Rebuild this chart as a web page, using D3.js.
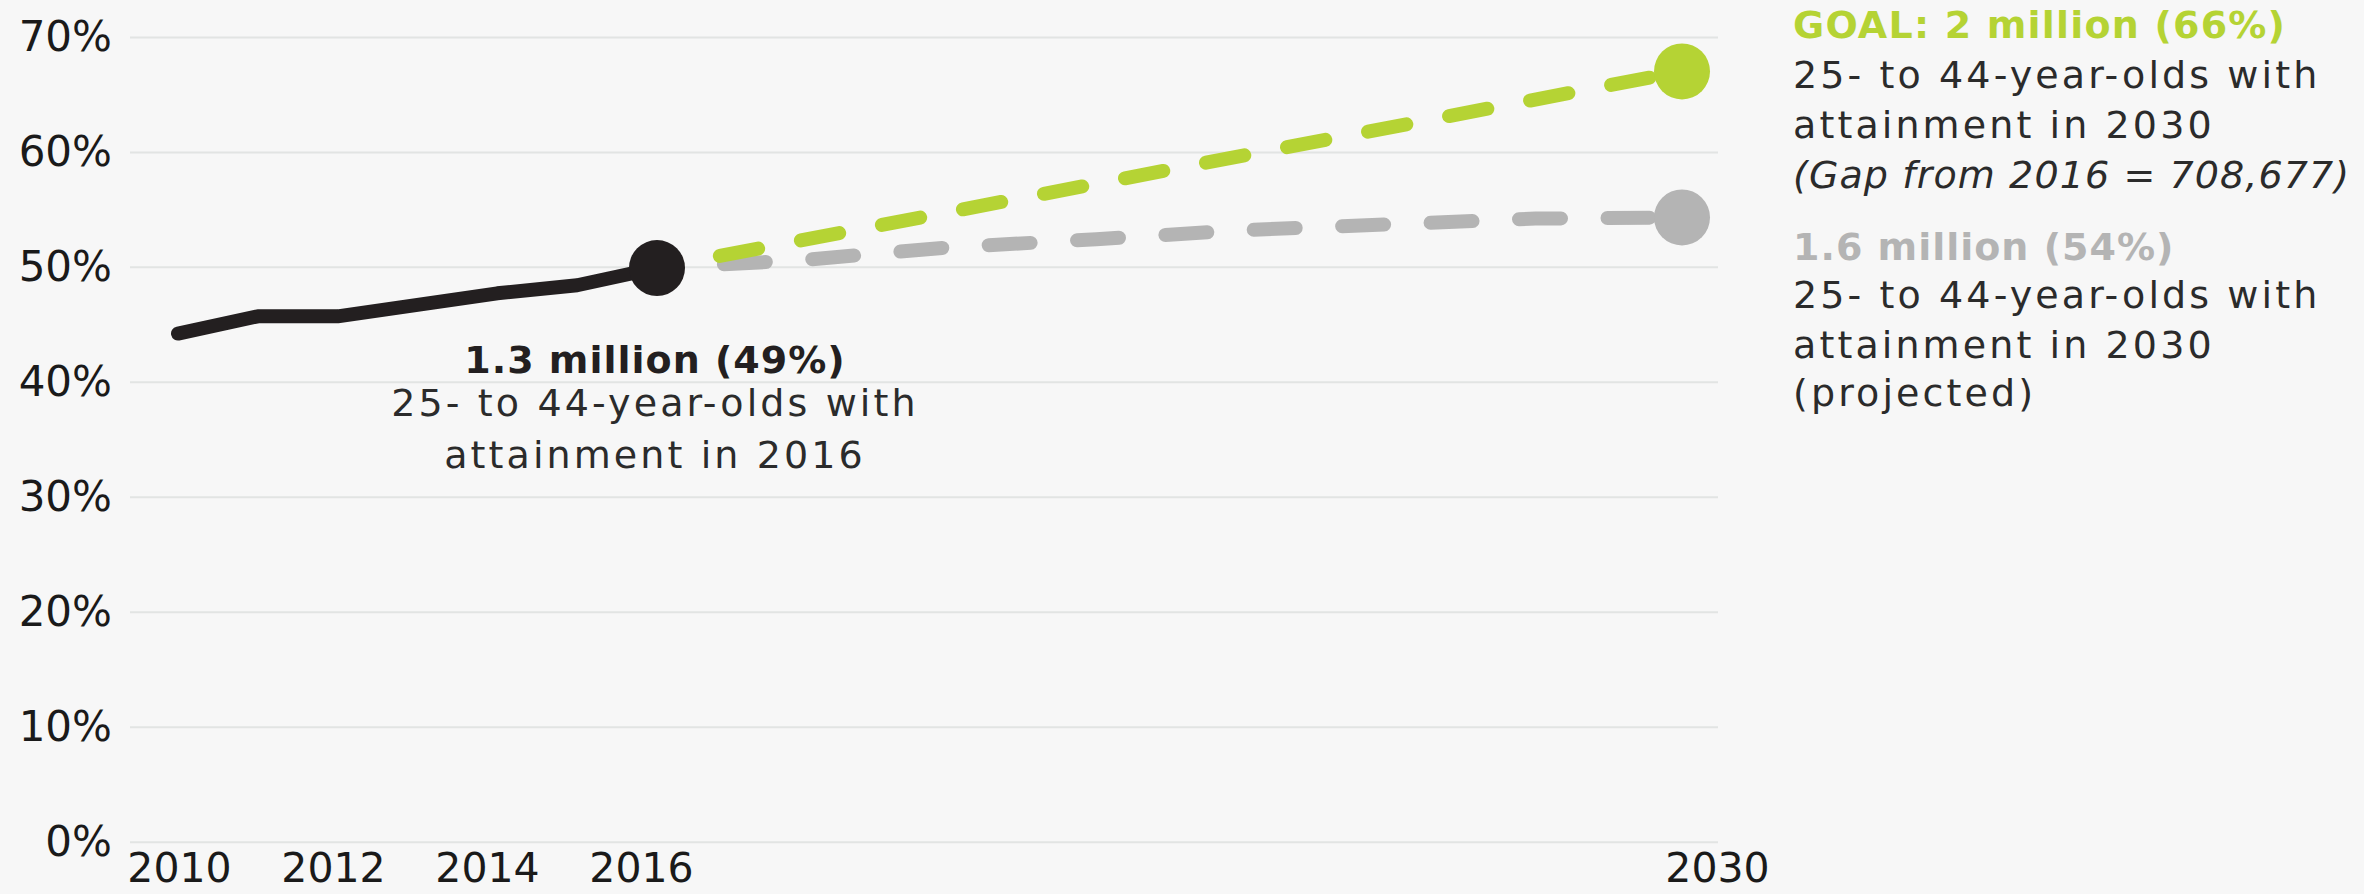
<!DOCTYPE html>
<html>
<head>
<meta charset="utf-8">
<script src="https://cdn.jsdelivr.net/npm/d3@7/dist/d3.min.js"></script>
<style>
  html, body { margin: 0; padding: 0; background: #f7f7f7; }
  svg { display: block; }
</style>
</head>
<body>
<svg id="chart" width="2364" height="894"></svg>
<script>
// ---------- data ----------
const histYears = [2010, 2011, 2012, 2013, 2014, 2015, 2016];
const histValues = [44.2, 45.7, 45.7, 46.7, 47.7, 48.4, 49.9];

const goalYears = [2016, 2030];
const goalValues = [49.9, 67.0];

const projYears = [2016, 2018, 2020, 2022, 2024, 2026, 2028, 2030];
const projValues = [49.9, 50.6, 51.7, 52.4, 53.2, 53.7, 54.2, 54.3];

const yTicks = [0, 10, 20, 30, 40, 50, 60, 70];
const xTicks = [2010, 2012, 2014, 2016, 2030];
const xTickLabels = ["2010", "2012", "2014", "2016", "2030"];

const currentLabel = ["1.3 million (49%)", "25- to 44-year-olds with", "attainment in 2016"];
const goalLabel = ["GOAL: 2 million (66%)", "25- to 44-year-olds with", "attainment in 2030", "(Gap from 2016 = 708,677)"];
const projLabel = ["1.6 million (54%)", "25- to 44-year-olds with", "attainment in 2030", "(projected)"];

// ---------- styling ----------
const FONT = "'DejaVu Sans', sans-serif";
const BLACK = "#231f20";
const TEXT = "#2b2b2b";
const GREEN = "#b5d334";
const GRAY = "#b4b4b4";
const GRID = "#e2e4e3";

const svg = d3.select("#chart");

const x = d3.scaleLinear().domain([2010, 2016, 2030]).range([178, 657, 1682]);
const xLabel = d3.scaleLinear().domain([2010, 2016, 2030]).range([179, 641, 1717]);
const y = d3.scaleLinear().domain([0, 70]).range([841.8, 36.9]);

const gridLeft = 130, gridRight = 1718;

// y axis + gridlines
const yAxis = svg.append("g")
  .attr("transform", `translate(${gridLeft},0)`)
  .call(d3.axisLeft(y).tickValues(yTicks).tickSize(-(gridRight - gridLeft)).tickPadding(18).tickFormat(d => d + "%"));
yAxis.select(".domain").remove();
yAxis.selectAll(".tick line").attr("stroke", GRID).attr("stroke-width", 2);
yAxis.selectAll(".tick text")
  .attr("font-family", FONT).attr("font-size", 42).attr("fill", "#1a1a1a");

// x axis labels
const xAxis = svg.append("g")
  .attr("transform", "translate(0,846)")
  .call(d3.axisBottom(xLabel).tickValues(xTicks).tickSize(0).tickPadding(7)
    .tickFormat((d, i) => xTickLabels[i]));
xAxis.select(".domain").remove();
xAxis.selectAll(".tick text")
  .attr("font-family", FONT).attr("font-size", 41).attr("fill", "#1a1a1a");

const line = d3.line().x(d => x(d[0])).y(d => y(d[1]));

// projection (gray dashed)
svg.append("path")
  .datum(d3.zip(projYears, projValues))
  .attr("d", line)
  .attr("fill", "none").attr("stroke", GRAY).attr("stroke-width", 14)
  .attr("stroke-linecap", "round")
  .attr("stroke-dasharray", "42 46.5").attr("stroke-dashoffset", 21.5);

// goal (green dashed)
svg.append("path")
  .datum(d3.zip(goalYears, goalValues))
  .attr("d", line)
  .attr("fill", "none").attr("stroke", GREEN).attr("stroke-width", 14)
  .attr("stroke-linecap", "round")
  .attr("stroke-dasharray", "39 43.5").attr("stroke-dashoffset", 18.5);

// historical line
svg.append("path")
  .datum(d3.zip(histYears, histValues))
  .attr("d", line)
  .attr("fill", "none").attr("stroke", BLACK).attr("stroke-width", 14)
  .attr("stroke-linecap", "round").attr("stroke-linejoin", "round");

// end dots
const lastHist = histYears.length - 1;
svg.append("circle").attr("cx", x(histYears[lastHist])).attr("cy", y(histValues[lastHist])).attr("r", 28).attr("fill", BLACK);
svg.append("circle").attr("cx", x(goalYears[1])).attr("cy", y(goalValues[1])).attr("r", 28).attr("fill", GREEN);
const lastProj = projYears.length - 1;
svg.append("circle").attr("cx", x(projYears[lastProj])).attr("cy", y(projValues[lastProj])).attr("r", 28).attr("fill", GRAY);

// ---------- annotations ----------
function addText(xp, yp, str, opts) {
  svg.append("text")
    .attr("x", xp).attr("y", yp)
    .attr("font-family", FONT)
    .attr("font-size", opts.size || 38)
    .attr("font-weight", opts.weight || "normal")
    .attr("font-style", opts.style || "normal")
    .attr("letter-spacing", opts.ls)
    .attr("text-anchor", opts.anchor || "start")
    .attr("fill", opts.fill)
    .text(str);
}

// current (2016) label, centred under the 2016 dot
const cx = x(2016) - 2;
addText(cx, 373, currentLabel[0], { weight: "bold", ls: 1.0, anchor: "middle", fill: BLACK });
addText(cx, 416, currentLabel[1], { ls: 3.1, anchor: "middle", fill: TEXT });
addText(cx, 468, currentLabel[2], { ls: 3.1, anchor: "middle", fill: TEXT });

// goal label
const rx = x(2030) + 111;
addText(rx, 38, goalLabel[0], { weight: "bold", ls: 1.2, fill: GREEN });
addText(rx, 88, goalLabel[1], { ls: 3.1, fill: TEXT });
addText(rx, 138, goalLabel[2], { ls: 3.1, fill: TEXT });
addText(rx, 188, goalLabel[3], { style: "italic", ls: 1.1, fill: TEXT });

// projected label
addText(rx, 260, projLabel[0], { weight: "bold", ls: 1.0, fill: GRAY });
addText(rx, 308, projLabel[1], { ls: 3.1, fill: TEXT });
addText(rx, 358, projLabel[2], { ls: 3.1, fill: TEXT });
addText(rx, 406, projLabel[3], { ls: 3.1, fill: TEXT });
</script>
</body>
</html>
